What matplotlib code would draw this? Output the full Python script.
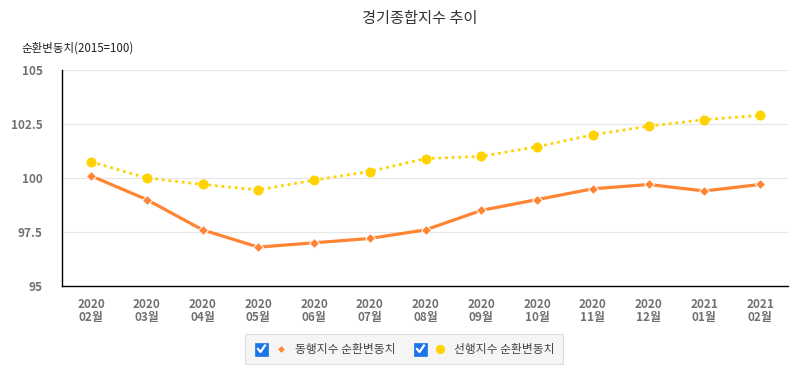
import matplotlib
matplotlib.use("Agg")
import matplotlib.pyplot as plt
from matplotlib.patches import Rectangle
from matplotlib.lines import Line2D

plt.rcParams['font.family'] = ['Noto Sans CJK KR', 'DejaVu Sans']

months = ["2020\n02월", "2020\n03월", "2020\n04월", "2020\n05월", "2020\n06월",
          "2020\n07월", "2020\n08월", "2020\n09월", "2020\n10월", "2020\n11월",
          "2020\n12월", "2021\n01월", "2021\n02월"]
coincident = [100.1, 99.0, 97.6, 96.8, 97.0, 97.2, 97.6, 98.5, 99.0, 99.5, 99.7, 99.4, 99.7]
leading = [100.75, 100.0, 99.7, 99.45, 99.9, 100.3, 100.9, 101.0, 101.45, 102.0, 102.4, 102.7, 102.9]
yticks = [95, 97.5, 100, 102.5, 105]
ytick_labels = ["95", "97.5", "100", "102.5", "105"]
series_names = ["동행지수 순환변동치", "선행지수 순환변동치"]

orange = "#FF8534"
yellow = "#FFD200"

W, H = 802, 373
fig = plt.figure(figsize=(W / 100, H / 100), dpi=100)
ax = fig.add_axes([62 / W, 1 - 286 / H, (788 - 62) / W, (286 - 70) / H])

x = range(len(months))
ax.plot(x, coincident, color=orange, lw=2.3, marker="D", ms=5,
        mfc=orange, mec="white", mew=0.7, zorder=3)
ax.plot(x, leading, color=yellow, lw=2.0, ls=(0, (1, 1.4)), marker="o", ms=6.2,
        mfc=yellow, mec=yellow, zorder=3)

ax.set_xlim(-0.52, 12.5)
ax.set_ylim(95, 105)
ax.set_yticks(yticks)
ax.set_yticklabels(ytick_labels)
ax.set_xticks(list(x))
ax.set_xticklabels(months, linespacing=0.95)
ax.tick_params(length=0, colors="#707070", labelsize=8.5, pad=9)
for lab in ax.get_xticklabels() + ax.get_yticklabels():
    lab.set_fontweight("bold")
ax.tick_params(axis="y", pad=14)
ax.grid(axis="y", color="#e6e6e6", lw=0.8)
ax.set_axisbelow(True)
for side in ["top", "right"]:
    ax.spines[side].set_visible(False)
ax.spines["left"].set_color("black")
ax.spines["bottom"].set_color("black")
ax.spines["left"].set_linewidth(1.0)
ax.spines["bottom"].set_linewidth(1.0)

fig.text(420 / W, 1 - 19 / H, "경기종합지수 추이", ha="center", va="center",
         fontsize=11, color="#333333")
fig.text(21 / W, 1 - 48 / H, "순환변동치(2015=100)", ha="left", va="center",
         fontsize=8.3, color="#222222")

# legend box
fig.patches.append(Rectangle((245 / W, 1 - 364 / H), (563 - 245) / W, 30 / H,
                             transform=fig.transFigure, facecolor="#f5f5f5",
                             edgecolor="#dddddd", lw=0.8))
cy = 1 - 349 / H
for i, (cx, name, col, mk, ms) in enumerate([(255, series_names[0], orange, "D", 4),
                                            (414, series_names[1], yellow, "o", 6)]):
    fig.patches.append(Rectangle((cx / W, cy - 6.5 / H), 13 / W, 13 / H,
                                 transform=fig.transFigure, facecolor="#1a73e8",
                                 edgecolor="#1a73e8", lw=0.5))
    fig.lines.append(Line2D([(cx + 3) / W, (cx + 5.5) / W, (cx + 10) / W],
                            [cy, cy - 3 / H, cy + 3.5 / H], transform=fig.transFigure,
                            color="white", lw=1.6))
    fig.lines.append(Line2D([(cx + 26) / W], [cy], transform=fig.transFigure,
                            marker=mk, ms=ms, color=col, mec="white" if mk == "D" else col,
                            mew=0.6))
    fig.text((cx + 40) / W, cy, name, ha="left", va="center", fontsize=8.5, color="#444444")

fig.savefig("out.png", dpi=100)
